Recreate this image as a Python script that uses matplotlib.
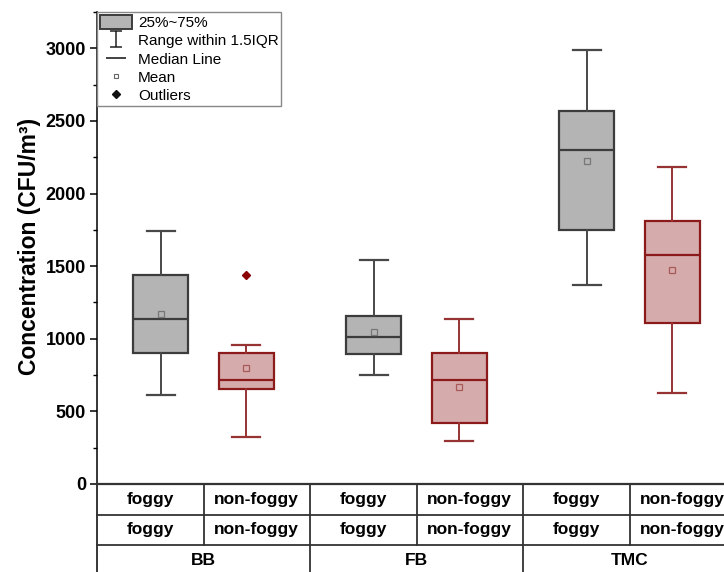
import matplotlib
matplotlib.use('Agg')
import matplotlib.pyplot as plt
import matplotlib.transforms as mtransforms
from matplotlib.lines import Line2D
from matplotlib.patches import Patch
from matplotlib.path import Path
from matplotlib.ticker import MultipleLocator

plt.rcParams['font.family'] = ['Liberation Sans', 'DejaVu Sans']

GROUPS = ['BB', 'FB', 'TMC']
CONDITIONS = ['foggy', 'non-foggy']
# box order: BB foggy, BB non-foggy, FB foggy, FB non-foggy, TMC foggy, TMC non-foggy
WHISLO = [616, 324, 752, 297, 1372, 626]
Q1 = [901, 653, 892, 423, 1752, 1106]
MED = [1136, 713, 1012, 713, 2299, 1577]
Q3 = [1441, 901, 1159, 901, 2570, 1812]
WHISHI = [1740, 954, 1540, 1136, 2988, 2186]
MEAN = [1172, 800, 1046, 671, 2223, 1476]
FLIERS = [[], [1441], [], [], [], []]
LEGEND_LABELS = ['25%~75%', 'Range within 1.5IQR', 'Median Line', 'Mean', 'Outliers']

STYLES = {
    'foggy': dict(fill='#b4b4b4', edge='#3c3c3c', whisk='#484848', mean='#777777', offset=-0.2),
    'non-foggy': dict(fill='#d6abab', edge='#8b1a1a', whisk='#973333', mean='#a85a5a', offset=0.2),
}
LINE = '#333333'

fig = plt.figure(figsize=(7.24, 5.72), dpi=100)
# axes runs past the right edge of the figure, like the cropped original
ax = fig.add_axes([97 / 724, 88 / 572, 639 / 724, 472 / 572])

for ci, cond in enumerate(CONDITIONS):
    s = STYLES[cond]
    idx = [gi * 2 + ci for gi in range(len(GROUPS))]
    stats = [dict(whislo=WHISLO[i], q1=Q1[i], med=MED[i], q3=Q3[i], whishi=WHISHI[i],
                  mean=MEAN[i], fliers=FLIERS[i]) for i in idx]
    ax.bxp(stats, positions=[g + s['offset'] for g in range(len(GROUPS))],
           widths=0.258, capwidths=0.13, patch_artist=True, showmeans=True,
           boxprops=dict(facecolor=s['fill'], edgecolor=s['edge'], linewidth=1.6),
           medianprops=dict(color=s['edge'], linewidth=1.6),
           whiskerprops=dict(color=s['whisk'], linewidth=1.4),
           capprops=dict(color=s['whisk'], linewidth=1.6),
           meanprops=dict(marker='s', markerfacecolor='none', markeredgecolor=s['mean'],
                          markersize=4, markeredgewidth=0.9),
           flierprops=dict(marker='D', markerfacecolor='#8b0000', markeredgecolor='#8b0000',
                           markersize=4.5))

ax.set_xlim(-0.5, 2.5)
ax.set_ylim(0, 3250)
ax.set_xticks([])
ax.yaxis.set_major_locator(MultipleLocator(500))
ax.yaxis.set_minor_locator(MultipleLocator(250))
ax.tick_params(axis='y', which='major', direction='out', length=5, width=1.1, pad=3,
               labelsize=13)
ax.tick_params(axis='y', which='minor', direction='out', length=3, width=1.0)
for lab in ax.get_yticklabels():
    lab.set_fontweight('bold')
ax.spines['top'].set_visible(False)
ax.spines['right'].set_visible(False)
ax.spines['left'].set_linewidth(1.1)
ax.spines['bottom'].set_linewidth(1.6)
ax.spines['bottom'].set_color(LINE)
ax.set_ylabel('Concentration (CFU/m³)', fontsize=16.5, fontweight='bold')
ax.yaxis.set_label_coords(-0.088, 0.503)

# ---- category table under the axis ----
tr = mtransforms.blended_transform_factory(ax.transData, ax.transAxes)
row_h = 30.5 / 472
ax.plot([-0.5, -0.5], [0, -0.2], color='black', lw=1.1, transform=tr, clip_on=False)
for k in (1, 2):
    ax.plot([-0.5, 2.5], [-k * row_h, -k * row_h], color=LINE, lw=1.3,
            transform=tr, clip_on=False)
for gi in range(len(GROUPS)):
    ax.plot([gi, gi], [0, -2 * row_h], color=LINE, lw=1.3, transform=tr, clip_on=False)
    if gi > 0:
        ax.plot([gi - 0.5, gi - 0.5], [0, -0.2], color=LINE, lw=1.3,
                transform=tr, clip_on=False)
    for ci, cond in enumerate(CONDITIONS):
        for k in (0, 1):
            ax.text(gi - 0.25 + 0.5 * ci, -(k + 0.5) * row_h, cond, transform=tr,
                    ha='center', va='center', fontsize=12.5, fontweight='bold')
    ax.text(gi, -2.5 * row_h, GROUPS[gi], transform=tr, ha='center', va='center',
            fontsize=12.5, fontweight='bold')

# ---- legend ----
ibeam = Path([(-0.4, -0.5), (0.4, -0.5), (0, -0.5), (0, 0.5), (-0.4, 0.5), (0.4, 0.5)],
             [Path.MOVETO, Path.LINETO, Path.MOVETO, Path.LINETO, Path.MOVETO, Path.LINETO])
handles = [
    Patch(facecolor='#b4b4b4', edgecolor='#3c3c3c', linewidth=1.4),
    Line2D([], [], ls='none', marker=ibeam, markersize=11, markerfacecolor='none',
           markeredgecolor='#222222', markeredgewidth=1.1),
    Line2D([], [], ls='none', marker='_', markersize=14, markeredgecolor='#222222',
           markeredgewidth=1.2),
    Line2D([], [], ls='none', marker='s', markersize=3.5, markerfacecolor='none',
           markeredgecolor='#666666', markeredgewidth=0.8),
    Line2D([], [], ls='none', marker='D', markersize=4, color='#111111'),
]
leg = ax.legend(handles, LEGEND_LABELS, loc='upper left', bbox_to_anchor=(0, 1),
                borderaxespad=0, fontsize=11, fancybox=False, framealpha=1,
                edgecolor='#888888', handlelength=2.1, handleheight=1.05,
                handletextpad=0.4, labelspacing=0.2, borderpad=0.18)
leg.get_frame().set_linewidth(1.0)

fig.savefig('out.png', dpi=100)
